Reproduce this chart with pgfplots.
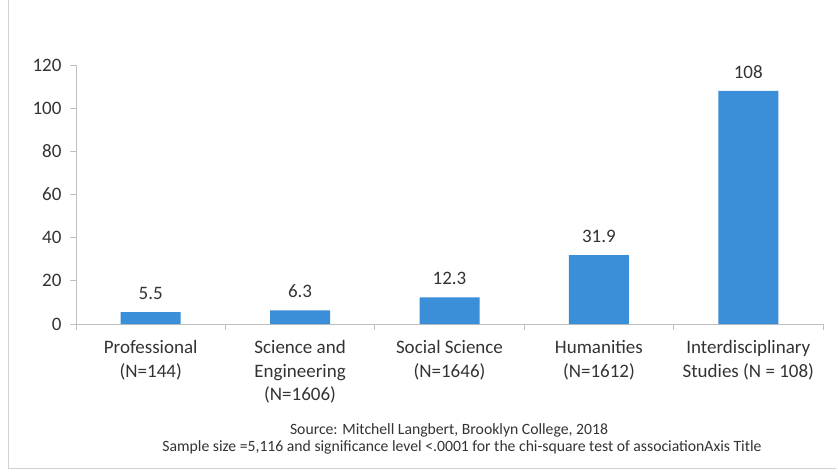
\documentclass[border=0pt]{standalone}
\usepackage{pgfplots}
\pgfplotsset{compat=1.18}
\usepackage{fontspec}
\setmainfont{Carlito}
\definecolor{barblue}{HTML}{3B8ED8}
\definecolor{axgray}{HTML}{BFBFBF}
\definecolor{txtgray}{HTML}{333333}
\begin{document}
\begin{tikzpicture}[x=1pt,y=1pt]
\useasboundingbox (0,0) rectangle (838,475);
\draw[color=axgray!70,line width=1pt] (8,7) -- (836,7);
\draw[color=axgray!70,line width=1pt] (8,7) -- (8,475);
\begin{axis}[
  at={(76pt,151pt)}, anchor=south west,
  scale only axis, width=747pt, height=259pt,
  xmin=-0.5, xmax=4.5, ymin=0, ymax=120,
  axis x line*=bottom, axis y line*=left,
  axis line style={axgray, line width=0.8pt},
  ytick={0,20,...,120},
  xtick={0,1,2,3,4},
  xticklabels={{Professional\\(N=144)},{Science and\\Engineering\\(N=1606)},{Social Science\\(N=1646)},{Humanities\\(N=1612)},{Interdisciplinary\\Studies (N = 108)}},
  xticklabel style={align=center, font=\fontsize{19}{23.5}\selectfont, text=txtgray, yshift=-7pt},
  yticklabel style={font=\fontsize{19}{21}\selectfont, text=txtgray, xshift=-5pt},
  /pgf/number format/assume math mode=true,
  major x tick style={draw=none},
  minor xtick={-0.5,0.5,1.5,2.5,3.5,4.5},
  minor tick length=6pt,
  major tick length=6pt,
  tick align=outside,
  tick style={axgray, line width=0.8pt},
  ybar, bar width=60pt,
  nodes near coords,
  nodes near coords style={font=\fontsize{19}{21}\selectfont, text=txtgray, yshift=9pt},
  point meta=explicit symbolic,
]
\addplot[fill=barblue, draw=none] coordinates {
  (0,5.5) [5.5]
  (1,6.3) [6.3]
  (2,12.3) [12.3]
  (3,31.9) [31.9]
  (4,108) [108]
};
\end{axis}
\node[text=txtgray, font=\fontsize{15.7}{18}\selectfont] at (449,45) {Source: Mitchell Langbert, Brooklyn College, 2018};
\node[text=txtgray, font=\fontsize{15.7}{18}\selectfont] at (462,28) {Sample size =5,116 and significance level <.0001 for the chi-square test of associationAxis Title};
\end{tikzpicture}
\end{document}
